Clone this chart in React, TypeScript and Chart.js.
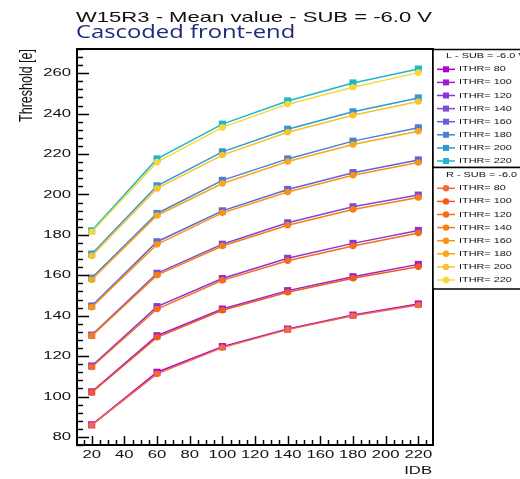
import React, { useEffect, useRef } from 'react';
import { Chart, registerables } from 'chart.js';

Chart.register(...registerables);

// IDB settings scanned
const idb = [20, 60, 100, 140, 180, 220];
const ithrValues = [80, 100, 120, 140, 160, 180, 200, 220];

// Mean threshold [e], left half (L) of the matrix
const left80 = [86.0, 112.0, 124.7, 133.4, 140.3, 145.8];
const left100 = [102.3, 130.1, 143.3, 152.4, 159.3, 165.4];
const left120 = [115.1, 144.5, 158.4, 168.4, 175.8, 182.2];
const left140 = [130.4, 161.0, 175.4, 186.0, 193.9, 199.7];
const left160 = [144.8, 176.6, 191.9, 202.5, 210.8, 217.1];
const left180 = [158.6, 190.6, 207.0, 217.6, 226.4, 233.0];
const left200 = [170.5, 204.3, 221.1, 232.3, 240.9, 247.8];
const left220 = [182.0, 217.6, 234.8, 246.3, 255.2, 262.1];

// Mean threshold [e], right half (R) of the matrix
const right80 = [85.8, 111.2, 124.2, 133.1, 140.0, 145.3];
const right100 = [102.0, 129.3, 142.7, 151.6, 158.5, 164.2];
const right120 = [114.6, 143.3, 157.5, 167.2, 174.5, 180.9];
const right140 = [130.0, 160.1, 174.5, 184.8, 192.6, 198.5];
const right160 = [144.2, 175.3, 190.9, 201.2, 209.5, 215.8];
const right180 = [157.8, 189.6, 205.4, 216.3, 224.7, 231.3];
const right200 = [169.6, 203.0, 219.5, 230.8, 239.2, 246.0];
const right220 = [181.4, 216.0, 233.2, 244.7, 253.1, 260.3];

const leftSeries = [left80, left100, left120, left140, left160, left180, left200, left220];
const rightSeries = [right80, right100, right120, right140, right160, right180, right200, right220];

const leftColors = ['#b000d0', '#9c1ed6', '#8a36d4', '#7a4cd6', '#6462d6', '#4a80d2', '#2e98d0', '#1cb6d0'];
const rightColors = ['#f26a3a', '#f25a1a', '#f86c18', '#f87e10', '#f89412', '#f8a81a', '#f8c228', '#f8d838'];

// Axis ticks
const xMajorTicks = [20, 40, 60, 80, 100, 120, 140, 160, 180, 200, 220];
const yMajorTicks = [80, 100, 120, 140, 160, 180, 200, 220, 240, 260];
const xMinorStep = 5;
const yMinorStep = 4;

const X_MIN = 11;
const X_MAX = 229;
const Y_MIN = 76;
const Y_MAX = 272;

const SX = 1.45;
const SANS = "'Liberation Sans', Arial, sans-serif";

function stretchedText(
  ctx: CanvasRenderingContext2D,
  text: string,
  x: number,
  y: number,
  font: string,
  color: string,
  align: CanvasTextAlign,
  baseline: CanvasTextBaseline,
  sx = SX,
  vertical = false
) {
  ctx.save();
  ctx.translate(x, y);
  ctx.scale(sx, 1);
  if (vertical) ctx.rotate(-Math.PI / 2);
  ctx.font = font;
  ctx.fillStyle = color;
  ctx.textAlign = align;
  ctx.textBaseline = baseline;
  ctx.fillText(text, 0, 0);
  ctx.restore();
}

const framePlugin = {
  id: 'rootFrame',
  beforeDraw(chart: any) {
    const ctx = chart.ctx as CanvasRenderingContext2D;
    ctx.save();
    ctx.fillStyle = '#ffffff';
    ctx.fillRect(0, 0, chart.width, chart.height);
    ctx.restore();
  },
  afterDraw(chart: any) {
    const ctx = chart.ctx as CanvasRenderingContext2D;
    const { left, right, top, bottom } = chart.chartArea;
    const xs = chart.scales.x;
    const ys = chart.scales.y;

    ctx.save();
    ctx.strokeStyle = '#000';
    ctx.lineWidth = 1.5;

    // y ticks (pointing inward)
    for (let v = Math.ceil(Y_MIN / yMinorStep) * yMinorStep; v <= Y_MAX; v += yMinorStep) {
      const py = Math.round(ys.getPixelForValue(v)) + 0.5;
      const major = yMajorTicks.includes(v);
      ctx.beginPath();
      ctx.moveTo(left, py);
      ctx.lineTo(left + (major ? 12 : 6), py);
      ctx.stroke();
    }
    // x ticks (pointing inward)
    for (let v = Math.ceil(X_MIN / xMinorStep) * xMinorStep; v <= X_MAX; v += xMinorStep) {
      const px = Math.round(xs.getPixelForValue(v)) + 0.5;
      const major = xMajorTicks.includes(v);
      ctx.beginPath();
      ctx.moveTo(px, bottom);
      ctx.lineTo(px, bottom - (major ? 9 : 5));
      ctx.stroke();
    }

    // frame
    ctx.lineWidth = 2;
    ctx.strokeRect(left, top, right - left, bottom - top);
    ctx.restore();

    // tick labels
    const tickFont = `11.5px ${SANS}`;
    yMajorTicks.forEach((v) => {
      stretchedText(ctx, String(v), left - 6, ys.getPixelForValue(v), tickFont, '#111', 'right', 'middle');
    });
    xMajorTicks.forEach((v) => {
      stretchedText(ctx, String(v), xs.getPixelForValue(v), 455, tickFont, '#111', 'center', 'middle');
    });

    // axis titles
    stretchedText(ctx, 'IDB', right - 1, 471, `11.5px ${SANS}`, '#111', 'right', 'middle');
    stretchedText(ctx, 'Threshold [e]', 27, top, `12.5px ${SANS}`, '#111', 'right', 'middle', SX, true);

    // titles
    stretchedText(ctx, 'W15R3 - Mean value - SUB = -6.0 V', 76, 22, `15px ${SANS}`, '#111', 'left', 'alphabetic', 1.47);
    stretchedText(ctx, 'Cascoded front-end', 76, 38, "17.5px 'Open Sans', sans-serif", '#1f2a78', 'left', 'alphabetic', 1.36);

    // legends
    const drawLegend = (
      boxTop: number,
      boxBottom: number,
      header: string,
      headerY: number,
      firstRowY: number,
      colors: string[],
      marker: 'rect' | 'circle'
    ) => {
      ctx.save();
      ctx.fillStyle = '#fff';
      ctx.fillRect(right, boxTop, 120, boxBottom - boxTop);
      ctx.strokeStyle = '#000';
      ctx.lineWidth = 1.5;
      ctx.strokeRect(right, boxTop, 120, boxBottom - boxTop);
      ctx.restore();
      stretchedText(ctx, header, 446, headerY, `7.5px ${SANS}`, '#111', 'left', 'middle');
      ithrValues.forEach((ithr, i) => {
        const y = firstRowY + i * 13.1;
        const c = colors[i];
        ctx.save();
        ctx.strokeStyle = c;
        ctx.fillStyle = c;
        ctx.lineWidth = 1.5;
        ctx.beginPath();
        ctx.moveTo(437, y);
        ctx.lineTo(455, y);
        ctx.stroke();
        ctx.beginPath();
        if (marker === 'rect') {
          ctx.rect(443, y - 3, 6, 6);
        } else {
          ctx.arc(446, y, 3.2, 0, Math.PI * 2);
        }
        ctx.fill();
        ctx.restore();
        stretchedText(ctx, `ITHR= ${ithr}`, 459, y, `7.5px ${SANS}`, '#111', 'left', 'middle');
      });
    };
    drawLegend(top + 0.5, 167.5, 'L - SUB = -6.0 V', 55.5, 69.3, leftColors, 'rect');
    drawLegend(167.5, 289, 'R - SUB = -6.0 V', 175, 188.3, rightColors, 'circle');
  },
};

export default function App() {
  const canvasRef = useRef<HTMLCanvasElement | null>(null);

  useEffect(() => {
    if (!canvasRef.current) return;
    const datasets: any[] = [];
    leftSeries.forEach((vals, i) => {
      datasets.push({
        label: `L ITHR= ${ithrValues[i]}`,
        data: idb.map((x, k) => ({ x, y: vals[k] })),
        borderColor: leftColors[i],
        backgroundColor: leftColors[i],
        borderWidth: 1.5,
        pointStyle: 'rect',
        pointRadius: 5,
        pointBorderWidth: 0,
        tension: 0,
        order: 1,
      });
    });
    rightSeries.forEach((vals, i) => {
      datasets.push({
        label: `R ITHR= ${ithrValues[i]}`,
        data: idb.map((x, k) => ({ x, y: vals[k] })),
        borderColor: rightColors[i],
        backgroundColor: rightColors[i],
        borderWidth: 1.5,
        pointStyle: 'circle',
        pointRadius: 3.3,
        pointBorderWidth: 0,
        tension: 0,
        order: 0,
      });
    });

    const chart = new Chart(canvasRef.current, {
      type: 'line',
      data: { datasets },
      options: {
        responsive: false,
        animation: false,
        layout: { padding: { left: 77, right: 87, top: 49, bottom: 34 } },
        plugins: {
          legend: { display: false },
          title: { display: false },
          tooltip: { enabled: false },
        },
        scales: {
          x: { type: 'linear', min: X_MIN, max: X_MAX, display: false },
          y: { type: 'linear', min: Y_MIN, max: Y_MAX, display: false },
        },
      },
      plugins: [framePlugin],
    });
    return () => chart.destroy();
  }, []);

  return (
    <div style={{ position: 'fixed', left: 0, top: 0, width: 520, height: 479, background: '#fff' }}>
      <canvas ref={canvasRef} width={520} height={479} />
    </div>
  );
}
